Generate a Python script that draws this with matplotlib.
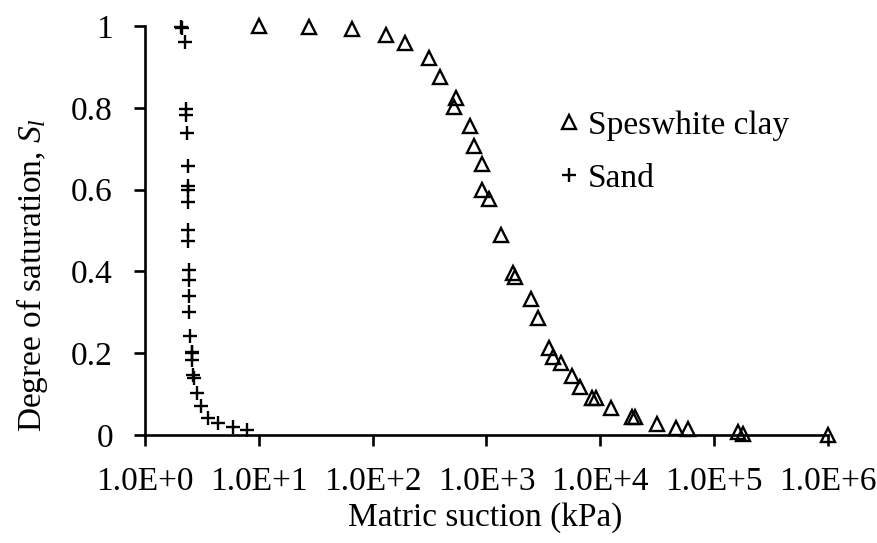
import numpy as np
import matplotlib
matplotlib.use("Agg")
import matplotlib.pyplot as plt
from matplotlib.ticker import FixedLocator, FixedFormatter, NullLocator

plt.rcParams['font.family'] = ['Liberation Serif', 'DejaVu Serif']
plt.rcParams['mathtext.fontset'] = 'custom'
plt.rcParams['mathtext.rm'] = 'Liberation Serif'
plt.rcParams['mathtext.it'] = 'Liberation Serif:italic'

# Water retention data: matric suction (kPa) vs degree of saturation
clay_suction = [10.1, 27.6, 65.5, 131, 193, 313, 391, 537, 522, 718, 784, 921, 908,
                1054, 1336, 1725, 1784, 2450, 2860, 3574, 3828, 4528, 5693, 6640,
                8410, 9190, 12450, 18900, 20200, 31800, 46400, 59400, 163000,
                179000, 1000000]
clay_sat = [1.0, 0.999, 0.994, 0.978, 0.958, 0.923, 0.876, 0.823, 0.801, 0.756,
            0.708, 0.662, 0.598, 0.576, 0.488, 0.396, 0.387, 0.333, 0.286, 0.212,
            0.190, 0.176, 0.145, 0.117, 0.090, 0.090, 0.065, 0.045, 0.043, 0.026,
            0.016, 0.014, 0.007, 0.002, 0.0]

sand_suction = [2.08, 2.12, 2.25, 2.32, 2.32, 2.35, 2.37, 2.37, 2.39, 2.40, 2.40,
                2.40, 2.45, 2.45, 2.45, 2.45, 2.48, 2.57, 2.57, 2.60, 2.66, 2.72,
                2.85, 3.11, 3.56, 4.35, 5.90, 7.83]
sand_sat = [0.998, 0.995, 0.960, 0.798, 0.782, 0.738, 0.658, 0.609, 0.600, 0.569,
            0.502, 0.474, 0.404, 0.380, 0.341, 0.302, 0.241, 0.204, 0.200, 0.184,
            0.147, 0.140, 0.102, 0.071, 0.041, 0.030, 0.020, 0.011]

x_ticks = [1e0, 1e1, 1e2, 1e3, 1e4, 1e5, 1e6]
x_tick_labels = ['1.0E+0', '1.0E+1', '1.0E+2', '1.0E+3', '1.0E+4', '1.0E+5', '1.0E+6']
y_ticks = [0, 0.2, 0.4, 0.6, 0.8, 1.0]
y_tick_labels = ['0', '0.2', '0.4', '0.6', '0.8', '1']

FS = 24

fig = plt.figure(figsize=(8.78, 5.43), dpi=100)
ax = fig.add_axes([0.165, 0.1989, 0.778, 0.753])

ax.plot(clay_suction, clay_sat, linestyle='none', marker='^', markersize=10,
        markerfacecolor='none', markeredgecolor='black', markeredgewidth=1.7,
        label='Speswhite clay', clip_on=False)
ax.plot(sand_suction, sand_sat, linestyle='none', marker='+', markersize=10,
        markeredgecolor='black', markeredgewidth=1.7, label='Sand', clip_on=False)

ax.set_xscale('log')
ax.set_xlim(1, 1e6)
ax.set_ylim(0, 1)
ax.xaxis.set_major_locator(FixedLocator(x_ticks))
ax.xaxis.set_major_formatter(FixedFormatter(x_tick_labels))
ax.xaxis.set_minor_locator(NullLocator())
ax.yaxis.set_major_locator(FixedLocator(y_ticks))
ax.yaxis.set_major_formatter(FixedFormatter(y_tick_labels))

for side in ('top', 'right'):
    ax.spines[side].set_visible(False)
for side in ('left', 'bottom'):
    ax.spines[side].set_linewidth(1.9)

ax.tick_params(axis='x', direction='out', length=8, width=1.9, labelsize=FS, pad=15)
ax.tick_params(axis='y', direction='out', length=8, width=1.9, labelsize=FS, pad=15)

ax.set_xlabel('Matric suction (kPa)', fontsize=FS)
ax.xaxis.set_label_coords(0.498, -0.165)
ax.set_ylabel(r'Degree of saturation, $S_l$', fontsize=FS)
ax.yaxis.set_label_coords(-0.139, 0.39)

ax.legend(loc='upper left', bbox_to_anchor=(0.633, 0.797), frameon=False,
          fontsize=FS, handletextpad=0.17, labelspacing=0.68, handlelength=0.8,
          borderpad=0, borderaxespad=0, bbox_transform=fig.transFigure)

fig.savefig('out.png', dpi=100)
